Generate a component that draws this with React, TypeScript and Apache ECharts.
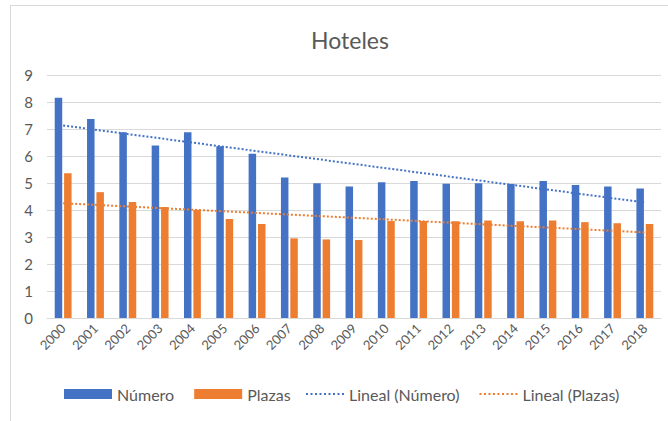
import React, { useEffect, useRef } from "react";
import * as echarts from "echarts";

const years = ["2000","2001","2002","2003","2004","2005","2006","2007","2008","2009","2010","2011","2012","2013","2014","2015","2016","2017","2018"];
const numero = [8.16,7.37,6.88,6.39,6.88,6.36,6.08,5.2,4.99,4.87,5.03,5.07,4.97,4.99,4.96,5.07,4.93,4.87,4.8];
const plazas = [5.36,4.66,4.3,4.11,4.01,3.67,3.48,2.95,2.91,2.89,3.59,3.59,3.58,3.61,3.58,3.61,3.55,3.51,3.48];
// trend line endpoints (first and last year)
const trendNumeroEnds = [7.13, 4.28];
const trendPlazasEnds = [4.25, 3.17];
const yTicks = [0, 9, 1];

const FONT = "Lato, 'Open Sans', sans-serif";
const GRAY = "#595959";
const DOTS_ICON =
  "path://M0,0h2v2h-2z M4.5,0h2v2h-2z M9,0h2v2h-2z M13.5,0h2v2h-2z M18,0h2v2h-2z M22.5,0h2v2h-2z M27,0h2v2h-2z M31.5,0h2v2h-2z M36,0h2v2h-2z";

function endsToSeries(ends: number[]) {
  return years.map((_, i) => (i === 0 ? ends[0] : i === years.length - 1 ? ends[1] : null));
}

export default function App() {
  const ref = useRef<HTMLDivElement>(null);
  useEffect(() => {
    if (!ref.current) return;
    const chart = echarts.init(ref.current, null, { renderer: "svg" });
    chart.setOption({
      animation: false,
      backgroundColor: "#ffffff",
      textStyle: { fontFamily: FONT },
      title: {
        text: "Hoteles",
        left: 345,
        top: 23,
        textAlign: "center",
        textStyle: { fontFamily: FONT, fontSize: 23, fontWeight: "normal", color: GRAY },
      },
      graphic: [
        { type: "line", shape: { x1: 10, y1: 5.5, x2: 668, y2: 5.5 }, style: { stroke: "#d9d9d9", lineWidth: 1 } },
        { type: "line", shape: { x1: 10.5, y1: 5, x2: 10.5, y2: 421 }, style: { stroke: "#d9d9d9", lineWidth: 1 } },
      ],
      legend: [
        {
          data: ["Número", "Plazas"],
          left: 59,
          top: 381,
          itemWidth: 48,
          itemHeight: 10,
          itemGap: 20,
          icon: "rect",
          textStyle: { fontFamily: FONT, fontSize: 16, color: GRAY },
        },
        {
          data: ["Lineal (Número)", "Lineal (Plazas)"],
          left: 301,
          top: 381,
          itemWidth: 38,
          itemHeight: 2,
          itemGap: 20,
          icon: DOTS_ICON,
          textStyle: { fontFamily: FONT, fontSize: 16, color: GRAY },
        },
      ],
      grid: { left: 47, right: 7, top: 75, bottom: 103 },
      xAxis: {
        type: "category",
        data: years,
        axisTick: { show: false },
        axisLine: { lineStyle: { color: "#d9d9d9" } },
        axisLabel: { rotate: 45, fontSize: 13, color: GRAY, margin: 8, fontFamily: FONT },
      },
      yAxis: {
        type: "value",
        min: yTicks[0],
        max: yTicks[1],
        interval: yTicks[2],
        axisLine: { show: false },
        axisTick: { show: false },
        splitLine: { lineStyle: { color: "#d9d9d9", width: 1 } },
        axisLabel: { fontSize: 15, color: GRAY, margin: 14, fontFamily: FONT },
      },
      series: [
        {
          name: "Número",
          type: "bar",
          data: numero,
          barWidth: 7.5,
          barGap: "25%",
          itemStyle: { color: "#4472C4" },
        },
        {
          name: "Plazas",
          type: "bar",
          data: plazas,
          barWidth: 7.5,
          barGap: "25%",
          itemStyle: { color: "#ED7D31" },
        },
        {
          name: "Lineal (Número)",
          type: "line",
          data: endsToSeries(trendNumeroEnds),
          connectNulls: true,
          symbol: "none",
          lineStyle: { color: "#4472C4", width: 2, type: [2, 2] },
          itemStyle: { color: "#4472C4" },
        },
        {
          name: "Lineal (Plazas)",
          type: "line",
          data: endsToSeries(trendPlazasEnds),
          connectNulls: true,
          symbol: "none",
          lineStyle: { color: "#ED7D31", width: 2, type: [2, 2] },
          itemStyle: { color: "#ED7D31" },
        },
      ],
    });
    return () => chart.dispose();
  }, []);
  return (
    <div
      ref={ref}
      style={{ position: "fixed", left: 0, top: 0, width: 668, height: 421 }}
    />
  );
}
